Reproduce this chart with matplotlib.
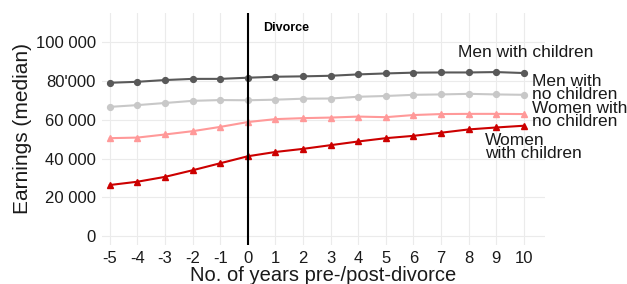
import matplotlib.pyplot as plt
import numpy as np

plt.rcParams['font.family'] = ['Liberation Sans', 'DejaVu Sans']

years = list(range(-5, 11))
men_children = [79000, 79500, 80400, 81000, 81000, 81600, 82100, 82300,
                82600, 83300, 83800, 84200, 84300, 84300, 84500, 84000]
men_no_children = [66600, 67500, 68600, 69700, 70100, 70000, 70300, 70800,
                   70900, 71800, 72200, 72800, 73000, 73300, 73000, 72800]
women_no_children = [50500, 50800, 52400, 54100, 56300, 58800, 60300, 60800,
                     61100, 61600, 61300, 62400, 62900, 63000, 63000, 62900]
women_children = [26400, 28100, 30600, 34000, 37600, 41200, 43400, 45000,
                  46900, 48800, 50500, 51700, 53300, 55000, 56000, 56900]

yticks = [0, 20000, 40000, 60000, 80000, 100000]
ytick_labels = ["0", "20 000", "40 000", "60 000", "80'000", "100 000"]

fig = plt.figure(figsize=(6.27, 2.84), dpi=100)
ax = fig.add_axes([0.162, 0.137, 0.707, 0.818])

ax.plot(years, men_children, color="#595959", marker="o", ms=4.2, lw=1.5)
ax.plot(years, men_no_children, color="#c8c8c8", marker="o", ms=4.2, lw=1.5)
ax.plot(years, women_no_children, color="#ff9999", marker="^", ms=5, lw=1.5)
ax.plot(years, women_children, color="#cc0000", marker="^", ms=5, lw=1.5)

ax.axvline(0, color="black", lw=1.5)
ax.text(0.55, 107400, "Divorce", fontsize=9, fontweight="bold", va="center")

lbl = dict(fontsize=12.5, color="#1a1a1a", va="center", linespacing=0.8)
ax.text(7.63, 94500, "Men with children", **lbl)
ax.text(10.3, 76400, "Men with\nno children", **lbl)
ax.text(10.3, 62400, "Women with\nno children", **lbl)
ax.text(8.6, 45900, "Women\nwith children", **lbl)

ax.set_xlim(-5.3, 10.76)
ax.set_ylim(-4500, 115000)
ax.set_xticks(years)
ax.set_xticklabels([str(y) for y in years])
ax.set_yticks(yticks)
ax.set_yticklabels(ytick_labels)
ax.tick_params(length=0, labelsize=12, colors="#1a1a1a", pad=4)
ax.grid(color="#ebebeb", lw=0.8)
ax.set_axisbelow(True)
for s in ax.spines.values():
    s.set_visible(False)

ax.set_xlabel("No. of years pre-/post-divorce", fontsize=14.5, labelpad=0, color="#1a1a1a")
ax.set_ylabel("Earnings (median)", fontsize=15, labelpad=3, color="#1a1a1a")

fig.savefig("out.png", dpi=100)
